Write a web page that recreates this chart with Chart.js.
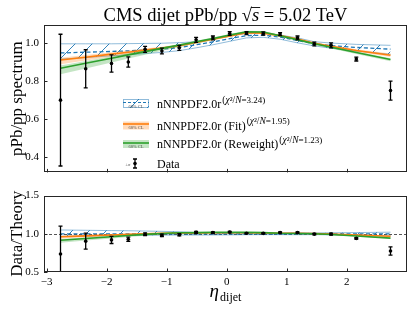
<!DOCTYPE html>
<html><head><meta charset="utf-8">
<script src="https://cdn.jsdelivr.net/npm/chart.js@4/dist/chart.umd.min.js"></script>
<style>
html,body{margin:0;padding:0;background:#fff;}
#wrap{position:relative;width:415px;height:312px;overflow:hidden;background:#fff}
#c1{position:absolute;left:0;top:0}
#c2{position:absolute;left:0;top:184px}
</style></head><body>
<div id="wrap">
<canvas id="c1" width="415" height="184"></canvas>
<canvas id="c2" width="415" height="128"></canvas>
</div>
<script>
// ---------------- data ----------------
const eta      = [-2.77, -2.35, -1.92, -1.64, -1.36, -1.08, -0.79, -0.51, -0.23, 0.05, 0.33, 0.61, 0.89, 1.18, 1.46, 1.74, 2.16, 2.73];
const dataVal  = [0.700, 0.864, 0.892, 0.900, 0.966, 0.957, 0.974, 1.016, 1.026, 1.049, 1.051, 1.049, 1.046, 1.026, 0.994, 0.987, 0.915, 0.750];
const dataErr  = [0.345, 0.100, 0.045, 0.027, 0.016, 0.015, 0.013, 0.013, 0.010, 0.010, 0.008, 0.008, 0.008, 0.010, 0.010, 0.013, 0.010, 0.050];

const priorMid = [0.947, 0.951, 0.955, 0.958, 0.962, 0.967, 0.975, 0.990, 1.005, 1.022, 1.038, 1.040, 1.030, 1.012, 0.995, 0.986, 0.976, 0.967];
const priorUp  = [0.995, 0.995, 0.995, 0.996, 0.997, 0.998, 1.001, 1.006, 1.020, 1.035, 1.050, 1.051, 1.041, 1.026, 1.006, 0.999, 0.992, 0.987];
const priorLo  = [0.915, 0.923, 0.932, 0.938, 0.944, 0.950, 0.959, 0.974, 0.990, 1.008, 1.026, 1.029, 1.019, 1.000, 0.984, 0.972, 0.957, 0.940];

const fitMid   = [0.910, 0.925, 0.941, 0.951, 0.962, 0.973, 0.985, 1.002, 1.019, 1.036, 1.053, 1.051, 1.038, 1.020, 0.998, 0.982, 0.960, 0.935];
const fitUp    = [0.922, 0.936, 0.951, 0.960, 0.970, 0.980, 0.991, 1.007, 1.024, 1.041, 1.058, 1.056, 1.043, 1.025, 1.003, 0.988, 0.967, 0.944];
const fitLo    = [0.888, 0.907, 0.927, 0.939, 0.952, 0.965, 0.978, 0.996, 1.013, 1.031, 1.048, 1.046, 1.033, 1.015, 0.993, 0.976, 0.953, 0.926];

const rwMid    = [0.867, 0.893, 0.919, 0.937, 0.954, 0.971, 0.989, 1.006, 1.023, 1.041, 1.058, 1.057, 1.037, 1.016, 0.995, 0.977, 0.949, 0.913];
const rwUp     = [0.882, 0.905, 0.929, 0.945, 0.961, 0.977, 0.994, 1.011, 1.028, 1.046, 1.063, 1.062, 1.042, 1.021, 1.000, 0.982, 0.955, 0.920];
const rwLo     = [0.835, 0.866, 0.897, 0.918, 0.938, 0.958, 0.978, 0.997, 1.015, 1.034, 1.052, 1.051, 1.031, 1.010, 0.989, 0.970, 0.941, 0.903];

// ratio panel (Data/Theory)
const ratioData   = [0.735, 0.904, 0.920, 0.928, 0.995, 0.980, 0.988, 1.020, 1.016, 1.022, 1.007, 1.006, 1.017, 1.016, 0.996, 0.997, 0.940, 0.775];
const ratioErr    = [0.365, 0.105, 0.047, 0.028, 0.017, 0.016, 0.014, 0.013, 0.010, 0.010, 0.008, 0.008, 0.008, 0.010, 0.010, 0.013, 0.011, 0.055];
const ratioPriorMid = [1, 1, 1, 1, 1, 1, 1, 1, 1, 1, 1, 1, 1, 1, 1, 1, 1, 1];
const ratioPriorUp  = [1.050, 1.046, 1.042, 1.040, 1.036, 1.032, 1.027, 1.016, 1.015, 1.013, 1.012, 1.011, 1.011, 1.014, 1.011, 1.013, 1.016, 1.021];
const ratioPriorLo  = [0.966, 0.971, 0.976, 0.979, 0.981, 0.982, 0.984, 0.984, 0.985, 0.986, 0.988, 0.989, 0.989, 0.988, 0.989, 0.986, 0.981, 0.972];
const ratioFitMid   = [0.961, 0.973, 0.985, 0.993, 1.000, 1.006, 1.010, 1.012, 1.014, 1.014, 1.014, 1.011, 1.008, 1.008, 1.003, 0.996, 0.984, 0.967];
const ratioFitUp    = [0.973, 0.984, 0.995, 1.002, 1.008, 1.013, 1.016, 1.017, 1.019, 1.019, 1.019, 1.016, 1.013, 1.013, 1.008, 1.002, 0.991, 0.976];
const ratioFitLo    = [0.938, 0.954, 0.971, 0.980, 0.990, 0.998, 1.003, 1.006, 1.008, 1.009, 1.009, 1.006, 1.003, 1.003, 0.998, 0.990, 0.977, 0.958];
const ratioRwMid    = [0.916, 0.939, 0.962, 0.978, 0.992, 1.004, 1.014, 1.016, 1.018, 1.019, 1.019, 1.016, 1.007, 1.004, 1.000, 0.991, 0.972, 0.944];
const ratioRwUp     = [0.932, 0.952, 0.973, 0.986, 0.999, 1.010, 1.019, 1.021, 1.023, 1.024, 1.024, 1.021, 1.012, 1.009, 1.005, 0.996, 0.978, 0.951];
const ratioRwLo     = [0.882, 0.911, 0.940, 0.959, 0.975, 0.990, 1.003, 1.007, 1.010, 1.012, 1.013, 1.011, 1.001, 0.998, 0.994, 0.984, 0.964, 0.934];

const xTicks      = [-3, -2, -1, 0, 1, 2];
const yTicksTop   = [0.4, 0.6, 0.8, 1.0];
const yTicksBot   = [0.5, 1.0, 1.5];
const legendLabels = ['nNNPDF2.0r', 'nNNPDF2.0r (Fit)', 'nNNPDF2.0r (Reweight)', 'Data'];
const legendChi    = ['3.24', '1.95', '1.23'];

// ---------------- styling ----------------
const SERIF = '"Liberation Serif", "DejaVu Serif", serif';
const BLUE = '#1f77b4', ORANGE = '#ff7f0e', GREEN = '#2ca02c';
const BLUE_EDGE = 'rgba(31,119,180,0.55)';
const ORANGE_FILL = 'rgba(255,127,14,0.28)';
const GREEN_FILL = 'rgba(44,160,44,0.28)';

Chart.defaults.font.family = SERIF;
Chart.defaults.color = '#000';

function makeHatch() {
  const s = 17;
  const c = document.createElement('canvas');
  c.width = s; c.height = s;
  const g = c.getContext('2d');
  g.strokeStyle = 'rgba(31,119,180,0.9)';
  g.lineWidth = 1;
  g.beginPath();
  g.moveTo(0, s); g.lineTo(s, 0);
  g.moveTo(-2, 2); g.lineTo(2, -2);
  g.moveTo(s - 2, s + 2); g.lineTo(s + 2, s - 2);
  g.stroke();
  return g.createPattern(c, 'repeat');
}
const hatch = makeHatch();

function pts(ys) { return eta.map((x, i) => ({ x: x, y: ys[i] })); }

function buildDatasets(vals, pm, pu, pl, fm, fu, fl, rm, ru, rl) {
  const line = { pointRadius: 0, tension: 0, showLine: true };
  return [
    { type: 'scatter', data: pts(vals), pointRadius: 1.8, pointBackgroundColor: '#000', pointBorderWidth: 0, showLine: false, order: 0 },
    Object.assign({ type: 'line', data: pts(rm), borderColor: GREEN, borderWidth: 1.6, fill: false, order: 1 }, line),
    Object.assign({ type: 'line', data: pts(ru), borderWidth: 0, borderColor: 'rgba(0,0,0,0)', backgroundColor: GREEN_FILL, fill: '+1', order: 2 }, line),
    Object.assign({ type: 'line', data: pts(rl), borderWidth: 0, borderColor: 'rgba(0,0,0,0)', fill: false, order: 2 }, line),
    Object.assign({ type: 'line', data: pts(fm), borderColor: ORANGE, borderWidth: 1.6, fill: false, order: 3 }, line),
    Object.assign({ type: 'line', data: pts(fu), borderWidth: 0, borderColor: 'rgba(0,0,0,0)', backgroundColor: ORANGE_FILL, fill: '+1', order: 4 }, line),
    Object.assign({ type: 'line', data: pts(fl), borderWidth: 0, borderColor: 'rgba(0,0,0,0)', fill: false, order: 4 }, line),
    Object.assign({ type: 'line', data: pts(pm), borderColor: BLUE, borderWidth: 1.3, borderDash: [4, 2.5], fill: false, order: 5 }, line),
    Object.assign({ type: 'line', data: pts(pu), borderWidth: 0.9, borderColor: BLUE_EDGE, backgroundColor: hatch, fill: '+1', order: 6 }, line),
    Object.assign({ type: 'line', data: pts(pl), borderWidth: 0.9, borderColor: BLUE_EDGE, fill: false, order: 6 }, line)
  ];
}

function decoPlugin(vals, errs, extra) {
  return {
    id: 'deco',
    afterDatasetsDraw(chart) {
      const ctx = chart.ctx, xs = chart.scales.x, ys = chart.scales.y, a = chart.chartArea;
      ctx.save();
      ctx.beginPath(); ctx.rect(a.left, a.top, a.right - a.left, a.bottom - a.top); ctx.clip();
      ctx.strokeStyle = '#000'; ctx.lineWidth = 1.3;
      for (let i = 0; i < eta.length; i++) {
        const x = xs.getPixelForValue(eta[i]);
        const y1 = ys.getPixelForValue(vals[i] + errs[i]);
        const y2 = ys.getPixelForValue(vals[i] - errs[i]);
        ctx.beginPath();
        ctx.moveTo(x, y1); ctx.lineTo(x, y2);
        ctx.moveTo(x - 2, y1); ctx.lineTo(x + 2, y1);
        ctx.moveTo(x - 2, y2); ctx.lineTo(x + 2, y2);
        ctx.stroke();
      }
      ctx.restore();
    },
    afterDraw(chart) {
      const ctx = chart.ctx, xs = chart.scales.x, ys = chart.scales.y, a = chart.chartArea;
      ctx.save();
      ctx.strokeStyle = '#262626'; ctx.lineWidth = 1;
      ctx.strokeRect(Math.round(a.left) + 0.5, Math.round(a.top) + 0.5, Math.round(a.right - a.left) - 1, Math.round(a.bottom - a.top) - 1);
      ctx.beginPath();
      xTicks.forEach(v => { const x = Math.round(xs.getPixelForValue(v)) + 0.5; ctx.moveTo(x, a.bottom); ctx.lineTo(x, a.bottom - 3.5); });
      ys.ticks.forEach(t => { const y = Math.round(ys.getPixelForValue(t.value)) + 0.5; ctx.moveTo(a.left, y); ctx.lineTo(a.left + 3.5, y); });
      ctx.stroke();
      ctx.restore();
      if (extra) extra(chart);
    }
  };
}

function commonScales(yMin, yMax, yTicks, xHeight, showX) {
  return {
    x: {
      type: 'linear', min: -3.045, max: 3.005,
      grid: { display: false, drawTicks: false }, border: { display: false },
      ticks: { display: showX, padding: 4, font: { size: 11, family: SERIF }, color: '#000',
               callback: v => (v < 0 ? '\u2212' : '') + Math.abs(v) },
      afterBuildTicks: s => { s.ticks = xTicks.map(v => ({ value: v })); },
      afterFit: s => { s.height = xHeight; }
    },
    y: {
      type: 'linear', min: yMin, max: yMax,
      grid: { display: false, drawTicks: false }, border: { display: false },
      ticks: { padding: 5, font: { size: 11, family: SERIF }, color: '#000', callback: v => Number(v).toFixed(1) },
      afterBuildTicks: s => { s.ticks = yTicks.map(v => ({ value: v })); },
      afterFit: s => { s.width = 44; }
    }
  };
}

function drawRotLabel(ctx, text, x, y, size) {
  ctx.save();
  ctx.translate(x, y); ctx.rotate(-Math.PI / 2);
  ctx.font = size + 'px ' + SERIF; ctx.fillStyle = '#000';
  ctx.textAlign = 'center'; ctx.textBaseline = 'middle';
  ctx.fillText(text, 0, 0);
  ctx.restore();
}

function topExtra(chart) {
  const ctx = chart.ctx, a = chart.chartArea;
  // title
  ctx.save();
  ctx.fillStyle = '#000'; ctx.textBaseline = 'alphabetic';
  const f = '18.5px ' + SERIF, fi = 'italic 18.5px ' + SERIF;
  const parts = [['CMS dijet pPb/pp ', f], ['\u221A', f], ['s', fi], [' = 5.02 TeV', f]];
  let w = 0;
  parts.forEach(p => { ctx.font = p[1]; w += ctx.measureText(p[0]).width; });
  let x = (a.left + a.right) / 2 - w / 2; const yb = 20.5;
  parts.forEach((p, i) => {
    ctx.font = p[1];
    const pw = ctx.measureText(p[0]).width;
    ctx.fillText(p[0], x, yb);
    if (i === 2) { ctx.beginPath(); ctx.lineWidth = 0.9; ctx.strokeStyle = '#000'; ctx.moveTo(x - 1, 7.5); ctx.lineTo(x + pw + 1, 7.5); ctx.stroke(); }
    x += pw;
  });
  ctx.restore();
  drawRotLabel(ctx, 'pPb/pp spectrum', 18, (a.top + a.bottom) / 2, 17);

  // legend
  ctx.save();
  const ix = 123, iw = 26, tx = 157;
  const rows = [104, 125.5, 144, 163.5];
  // blue hatched icon
  let y = rows[0];
  ctx.fillStyle = hatch; ctx.fillRect(ix, y - 5, iw, 9);
  ctx.strokeStyle = BLUE_EDGE; ctx.lineWidth = 0.9; ctx.strokeRect(ix + 0.5, y - 4.5, iw - 1, 8);
  ctx.strokeStyle = BLUE; ctx.lineWidth = 1.2; ctx.setLineDash([3, 2]);
  ctx.beginPath(); ctx.moveTo(ix, y - 1.5); ctx.lineTo(ix + iw, y - 1.5); ctx.stroke(); ctx.setLineDash([]);
  // orange icon
  y = rows[1];
  ctx.fillStyle = ORANGE_FILL; ctx.fillRect(ix, y - 4, iw, 8);
  ctx.strokeStyle = ORANGE; ctx.lineWidth = 1.6; ctx.beginPath(); ctx.moveTo(ix, y - 1.5); ctx.lineTo(ix + iw, y - 1.5); ctx.stroke();
  // green icon
  y = rows[2];
  ctx.fillStyle = GREEN_FILL; ctx.fillRect(ix, y - 4, iw, 8);
  ctx.strokeStyle = GREEN; ctx.lineWidth = 1.6; ctx.beginPath(); ctx.moveTo(ix, y - 1); ctx.lineTo(ix + iw, y - 1); ctx.stroke();
  // tiny "68% CL"
  ctx.fillStyle = '#555'; ctx.font = '4.5px ' + SERIF; ctx.textAlign = 'center'; ctx.textBaseline = 'middle';
  ctx.fillText('68% CL', ix + iw / 2, rows[0] + 2.5);
  ctx.fillText('68% CL', ix + iw / 2, rows[1] + 2);
  ctx.fillText('68% CL', ix + iw / 2, rows[2] + 2.5);
  // data icon
  y = rows[3];
  ctx.fillText('\u00B1\u03C3', 128, y + 1);
  ctx.strokeStyle = '#000'; ctx.lineWidth = 1.3;
  ctx.beginPath(); ctx.moveTo(135, y - 4.5); ctx.lineTo(135, y + 4.5);
  ctx.moveTo(133, y - 4.5); ctx.lineTo(137, y - 4.5); ctx.moveTo(133, y + 4.5); ctx.lineTo(137, y + 4.5); ctx.stroke();
  ctx.fillStyle = '#000'; ctx.beginPath(); ctx.arc(135, y, 1.8, 0, Math.PI * 2); ctx.fill();
  // labels
  ctx.textAlign = 'left'; ctx.textBaseline = 'alphabetic'; ctx.fillStyle = '#000';
  for (let i = 0; i < 4; i++) {
    const base = rows[i] + 4;
    ctx.font = '12px ' + SERIF;
    ctx.fillText(legendLabels[i], tx, base);
    if (i < 3) {
      const lw = ctx.measureText(legendLabels[i]).width;
      let sx = tx + lw + 1;
      const sy = base - 5.5;
      const segs = [['(', '9.5px '], ['\u03C7', 'italic 9.5px '], ['\u00B2/', '9.5px '], ['N', 'italic 9.5px '], ['=' + legendChi[i] + ')', '9px ']];
      segs.forEach(sg => { ctx.font = sg[1] + SERIF; ctx.fillText(sg[0], sx, sy); sx += ctx.measureText(sg[0]).width; });
    }
  }
  ctx.restore();
}

function botExtra(chart) {
  const ctx = chart.ctx, a = chart.chartArea, ys = chart.scales.y;
  drawRotLabel(ctx, 'Data/Theory', 18, (a.top + a.bottom) / 2, 17);
  // x-axis title
  ctx.save();
  ctx.fillStyle = '#000'; ctx.textBaseline = 'alphabetic';
  ctx.font = 'italic 19px ' + SERIF;
  const w1 = ctx.measureText('\u03B7').width;
  ctx.font = '12px ' + SERIF;
  const w2 = ctx.measureText('dijet').width;
  const x0 = (a.left + a.right) / 2 - (w1 + w2 + 1) / 2;
  ctx.font = 'italic 19px ' + SERIF;
  ctx.fillText('\u03B7', x0, 113);
  ctx.font = '12px ' + SERIF;
  ctx.fillText('dijet', x0 + w1 + 1, 117);
  ctx.restore();
}

const refLinePlugin = {
  id: 'refline',
  beforeDatasetsDraw(chart) {
    const ctx = chart.ctx, a = chart.chartArea, y = Math.round(chart.scales.y.getPixelForValue(1.0)) + 0.5;
    ctx.save(); ctx.strokeStyle = '#555'; ctx.lineWidth = 1; ctx.setLineDash([3, 2]);
    ctx.beginPath(); ctx.moveTo(a.left, y); ctx.lineTo(a.right, y); ctx.stroke(); ctx.restore();
  }
};

new Chart(document.getElementById('c1'), {
  type: 'line',
  data: { datasets: buildDatasets(dataVal, priorMid, priorUp, priorLo, fitMid, fitUp, fitLo, rwMid, rwUp, rwLo) },
  options: {
    responsive: false, animation: false, events: [],
    layout: { padding: { top: 25, right: 8, left: 0, bottom: 0 } },
    plugins: { legend: { display: false }, tooltip: { enabled: false } },
    scales: commonScales(0.3215, 1.0935, yTicksTop, 3, false)
  },
  plugins: [decoPlugin(dataVal, dataErr, topExtra)]
});

new Chart(document.getElementById('c2'), {
  type: 'line',
  data: { datasets: buildDatasets(ratioData, ratioPriorMid, ratioPriorUp, ratioPriorLo, ratioFitMid, ratioFitUp, ratioFitLo, ratioRwMid, ratioRwUp, ratioRwLo) },
  options: {
    responsive: false, animation: false, events: [],
    layout: { padding: { top: 9, right: 8, left: 0, bottom: 0 } },
    plugins: { legend: { display: false }, tooltip: { enabled: false } },
    scales: commonScales(0.5, 1.5, yTicksBot, 40, true)
  },
  plugins: [refLinePlugin, decoPlugin(ratioData, ratioErr, botExtra)]
});
</script>
</body></html>
